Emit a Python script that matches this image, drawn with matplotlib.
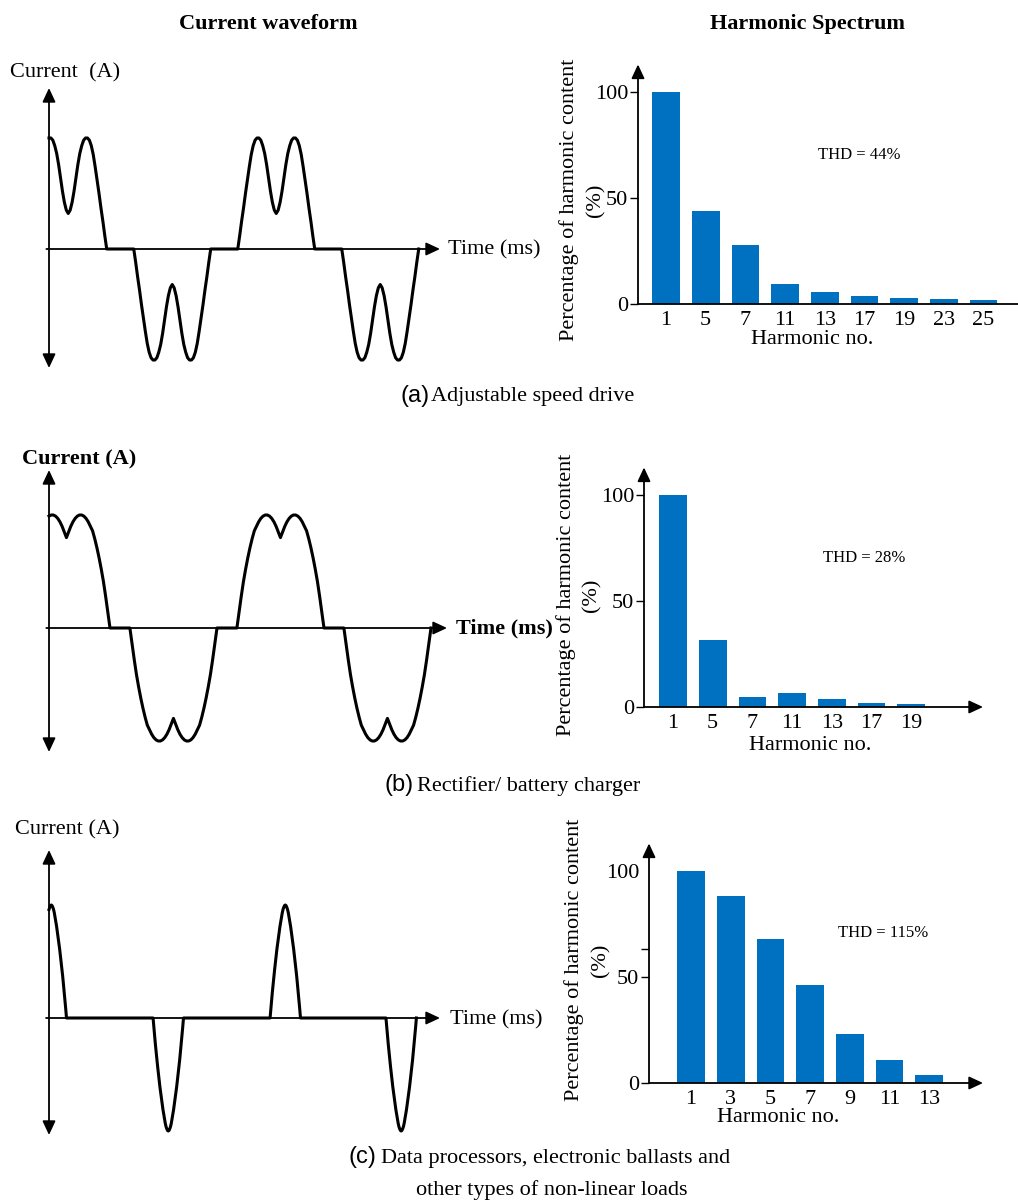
import matplotlib
matplotlib.use("Agg")
import matplotlib.pyplot as plt

plt.rcParams['font.family'] = ['Liberation Serif', 'DejaVu Serif']

# ---- data ----
# one side of a current pulse: distance from pulse centre (fraction of half width) -> relative current
pulse_u = [0, .05, .1, .15, .2, .25, .3, .35, .4, .45, .5,
           .55, .6, .65, .7, .75, .8, .85, .9, .95, 1.0]
pulse_a = [.32, .35, .42, .52, .64, .76, .86, .93, .98, 1.0, 1.0,
           .98, .93, .85, .74, .62, .50, .37, .25, .12, 0]
pulse_b = [.80, .85, .90, .94, .97, .99, 1.0, 1.0, .99, .97, .94,
           .90, .86, .79, .71, .62, .52, .41, .28, .14, 0]
pulse_c = [1.0, .995, .98, .96, .93, .89, .85, .81, .76, .71, .66,
           .61, .55, .49, .43, .37, .30, .23, .15, .08, 0]

# pulse centres (ms), polarity and half width (ms)
centres_a = [1.85, 11.85, 21.85, 31.85]
centres_b = [1.63, 11.63, 21.63, 31.63]
centres_c = [0.195, 10.195, 20.195, 30.1]
signs = [1, -1, 1, -1]
half_a, half_b, half_c = 3.7, 4.07, 1.3

# harmonic spectra (%)
harm_a = ['1', '5', '7', '11', '13', '17', '19', '23', '25']
pct_a = [100, 44, 28, 9.5, 5.7, 3.8, 2.7, 2.4, 1.9]
harm_b = ['1', '5', '7', '11', '13', '17', '19']
pct_b = [100, 31.7, 4.7, 6.6, 3.8, 1.9, 1.4]
harm_c = ['1', '3', '5', '7', '9', '11', '13']
pct_c = [100, 88, 68, 46, 23, 11, 3.8]
thd = ['THD = 44%', 'THD = 28%', 'THD = 115%']

W, H = 1018, 1201
fig = plt.figure(figsize=(W / 100, H / 100), dpi=100)


def px_axes(left, top, right, bottom):
    return fig.add_axes([left / W, 1 - bottom / H, (right - left) / W, (bottom - top) / H])


def ftext(x, y, s, **kw):
    fig.text(x / W, 1 - y / H, s, **kw)


def build_wave(centres, half, shape):
    t, cur = [], []
    for c, s in zip(centres, signs):
        for u, v in zip(pulse_u[::-1], shape[::-1]):
            t.append(c - u * half)
            cur.append(s * v)
        for u, v in zip(pulse_u[1:], shape[1:]):
            t.append(c + u * half)
            cur.append(s * v)
    keep = [k for k in range(len(t)) if t[k] >= -1e-9]
    return [t[k] for k in keep], [cur[k] for k in keep]


head = dict(color='k', lw=1.3, shrinkA=0, shrinkB=0, mutation_scale=14)
tip = '-|>,head_length=0.6,head_width=0.28'


def wave_panel(centres, half, shape, x0, y0, ms_px, amp_px, top_px, bot_px, tip_px):
    left, right, top, bottom = x0 - 20, tip_px + 10, top_px - 10, bot_px + 10
    ax = px_axes(left, top, right, bottom)
    ax.set_xlim((left - x0) / ms_px, (right - x0) / ms_px)
    ax.set_ylim((y0 - bottom) / amp_px, (y0 - top) / amp_px)
    ax.axis('off')
    ax.annotate('', xy=(0, (y0 - top_px) / amp_px), xytext=(0, (y0 - bot_px) / amp_px),
                arrowprops=dict(arrowstyle='<|-|>,head_length=0.6,head_width=0.28', **head),
                annotation_clip=False)
    ax.annotate('', xy=((tip_px - x0) / ms_px, 0), xytext=(-0.25, 0),
                arrowprops=dict(arrowstyle=tip, **head), annotation_clip=False)
    t, cur = build_wave(centres, half, shape)
    ax.plot(t, cur, color='k', lw=2.2, solid_joinstyle='round')
    return ax


def bar_panel(labels, vals, axis_px, bar1_px, zero_px, right_px, x_arrow):
    step, unit, ymax = 39.7, 2.12, 113
    top_px = zero_px - ymax * unit
    ax = px_axes(axis_px, top_px, right_px, zero_px)
    xl = (axis_px - bar1_px) / step
    xr = (right_px - bar1_px) / step
    ax.set_xlim(xl, xr)
    ax.set_ylim(0, ymax)
    for s in ax.spines.values():
        s.set_visible(False)
    ax.bar(range(len(vals)), vals, width=0.7, color='#0070C0', zorder=2)
    ax.set_xticks(range(len(vals)))
    ax.set_xticklabels(labels)
    ax.set_yticks([0, 50, 100])
    ax.tick_params(axis='x', length=0, pad=5, labelsize=16)
    ax.tick_params(axis='y', direction='out', length=6, width=1, pad=1, labelsize=16)
    ax.annotate('', xy=(xl, ymax), xytext=(xl, 0),
                arrowprops=dict(arrowstyle=tip, **head), annotation_clip=False)
    ax.annotate('', xy=(xr, 0), xytext=(xl, 0),
                arrowprops=dict(arrowstyle=tip if x_arrow else '-', **head),
                annotation_clip=False)
    return ax


# ---- titles ----
ftext(268, 24, 'Current waveform', fontsize=16, fontweight='bold', ha='center', va='center')
ftext(808, 24, 'Harmonic Spectrum', fontsize=16, fontweight='bold', ha='center', va='center')

# ---- waveforms ----
wave_panel(centres_a, half_a, pulse_a, 49, 249, 10.4, 111, 88, 368, 440)
wave_panel(centres_b, half_b, pulse_b, 49, 628, 10.7, 113, 470, 752, 447)
wave_panel(centres_c, half_c, pulse_c, 49, 1018, 11.7, 113, 850, 1135, 440)

ftext(10, 73, 'Current  (A)', fontsize=16, va='center')
ftext(22, 459, 'Current (A)', fontsize=16, fontweight='bold', va='center')
ftext(15, 830, 'Current (A)', fontsize=16, va='center')
ftext(448, 250, 'Time (ms)', fontsize=16, va='center')
ftext(456, 628, 'Time (ms)', fontsize=16, fontweight='bold', va='center')
ftext(450, 1020, 'Time (ms)', fontsize=16, va='center')

# ---- spectra ----
bar_panel(harm_a, pct_a, 638, 666, 304, 1018, False)
bar_panel(harm_b, pct_b, 644, 673, 707, 983, True)
axc = bar_panel(harm_c, pct_c, 649, 691, 1083, 983, True)
axc.yaxis.get_major_ticks()[2].tick1line.set_visible(False)
axc.set_yticks([63], minor=True)
axc.tick_params(axis='y', which='minor', direction='out', length=6, width=1)

# y label in two rotated lines
for x1, x2, y in [(569, 596, 200), (566, 592, 595), (574, 601, 960)]:
    ftext(x1, y, 'Percentage of harmonic content', fontsize=16, rotation=90,
          ha='center', va='center')
    ftext(x2, y, '(%)', fontsize=16, rotation=90, ha='center', va='center')
for (x, y), s in zip([(859, 155), (864, 558), (883, 933)], thd):
    ftext(x, y, s, fontsize=12, ha='center', va='center')
for x, y in [(812, 339), (810, 745), (778, 1118)]:
    ftext(x, y, 'Harmonic no.', fontsize=16, ha='center', va='center')

# ---- captions ----
sans = ['Liberation Sans', 'DejaVu Sans']
ftext(401, 396, '(a)', fontsize=17, family=sans, va='center')
ftext(431, 397, 'Adjustable speed drive', fontsize=16, va='center')
ftext(384, 785, '(b)', fontsize=17, family=sans, va='center')
ftext(417, 786, 'Rectifier/ battery charger', fontsize=16, va='center')
ftext(349, 1157, '(c)', fontsize=17, family=sans, va='center')
ftext(381, 1158, 'Data processors, electronic ballasts and', fontsize=16, va='center')
ftext(416, 1190, 'other types of non-linear loads', fontsize=16, va='center')

fig.savefig('out.png', dpi=100)
